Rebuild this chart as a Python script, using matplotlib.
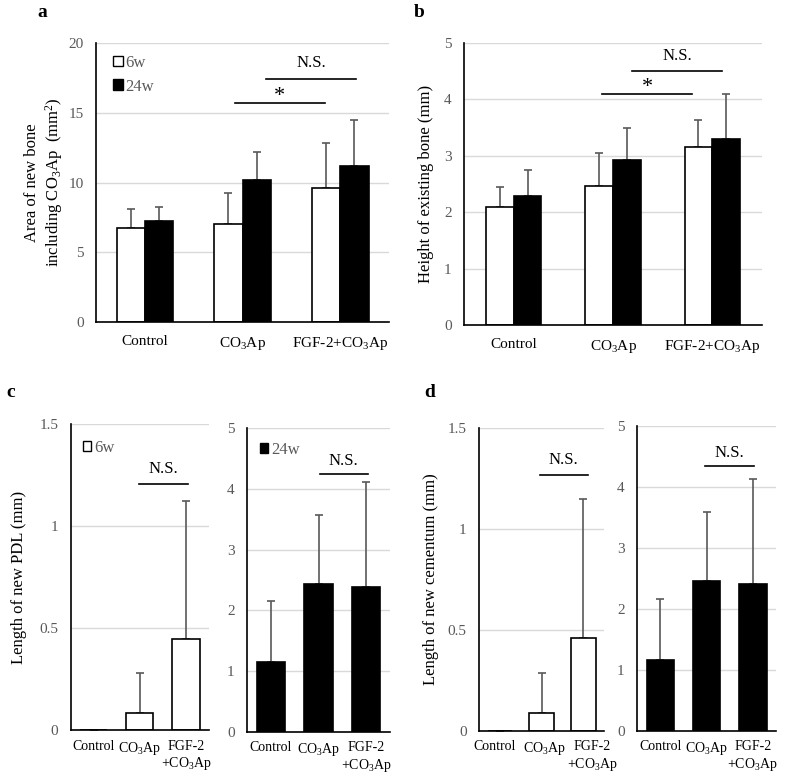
import matplotlib
matplotlib.use("Agg")
import matplotlib.pyplot as plt
import matplotlib.transforms as mtransforms
from matplotlib.ticker import FuncFormatter
from matplotlib.patches import Patch

plt.rcParams["font.family"] = ["Liberation Serif", "DejaVu Serif"]
plt.rcParams["mathtext.fontset"] = "custom"
plt.rcParams["mathtext.rm"] = "Liberation Serif"
plt.rcParams["mathtext.default"] = "regular"

groups = ["Control", "CO$_3$Ap", "FGF-2+CO$_3$Ap"]
groups_two_line = ["Control", "CO$_3$Ap", "FGF-2\n+CO$_3$Ap"]

# a: area of new bone
area_6w = [6.76, 7.03, 9.63]
area_6w_sd = [1.32, 2.24, 3.18]
area_24w = [7.24, 10.18, 11.2]
area_24w_sd = [1.03, 1.98, 3.28]

# b: height of existing bone
height_6w = [2.09, 2.47, 3.16]
height_6w_sd = [0.36, 0.58, 0.47]
height_24w = [2.29, 2.93, 3.29]
height_24w_sd = [0.46, 0.57, 0.80]

# c: new PDL
pdl_6w = [0.0, 0.085, 0.445]
pdl_6w_sd = [0.0, 0.195, 0.68]
pdl_24w = [1.15, 2.44, 2.39]
pdl_24w_sd = [1.0, 1.13, 1.73]

# d: new cementum
cem_6w = [0.0, 0.09, 0.46]
cem_6w_sd = [0.0, 0.195, 0.69]
cem_24w = [1.16, 2.46, 2.40]
cem_24w_sd = [1.0, 1.12, 1.73]

GRAY = "#595959"
GRID = "#d9d9d9"


def style_axes(ax, ymax, ystep, xsize=11, xpad=9):
    ax.set_xlim(-0.5, 2.5)
    ax.set_ylim(0, ymax)
    yt = []
    v = 0
    while v <= ymax + 1e-9:
        yt.append(v)
        v += ystep
    ax.set_yticks(yt)
    ax.yaxis.set_major_formatter(FuncFormatter(lambda val, pos: "{:g}".format(round(val, 3))))
    ax.grid(axis="y", color=GRID, lw=1, zorder=0)
    ax.set_axisbelow(True)
    for s in ["top", "right"]:
        ax.spines[s].set_visible(False)
    for s in ["left", "bottom"]:
        ax.spines[s].set_linewidth(1.2)
        ax.spines[s].set_color("black")
    ax.tick_params(axis="y", length=0, labelsize=11, labelcolor=GRAY, pad=9)
    ax.tick_params(axis="x", length=0, labelsize=xsize, labelcolor="black", pad=xpad)


def bars(ax, x, vals, sd, color, width):
    ax.bar(x, vals, width, color=color, edgecolor="black", linewidth=1.2, zorder=2)
    ax.errorbar(x, vals, yerr=[[0] * len(sd), sd], fmt="none", ecolor=GRAY,
                elinewidth=1.2, capsize=3, capthick=1.2, zorder=1.5)


def sig(ax, x0, x1, y, text, ty, size=12):
    ax.plot([x0, x1], [y, y], color="black", lw=1.2, zorder=3)
    ax.text((x0 + x1) / 2, ty, text, ha="center", va="center", fontsize=size)


def legend(ax, handles, size, anchor):
    leg = ax.legend(handles=handles, loc="upper left", bbox_to_anchor=anchor, frameon=False,
                    handlelength=size, handleheight=size, handletextpad=0.15,
                    labelspacing=0.45, fontsize=12, borderaxespad=0, borderpad=0)
    for t in leg.get_texts():
        t.set_color(GRAY)


def shift_labels(ax, offsets):
    for lab, dx in zip(ax.get_xticklabels(), offsets):
        lab.set_transform(lab.get_transform() +
                          mtransforms.ScaledTranslation(dx / 100, 0, fig.dpi_scale_trans))


fig = plt.figure(figsize=(7.89, 7.75), dpi=100)
xs = list(range(3))

# ---- a ----
ax = fig.add_axes([0.1217, 0.5845, 0.3714, 0.36])
w = 0.29
bars(ax, [x - w / 2 for x in xs], area_6w, area_6w_sd, "white", w)
bars(ax, [x + w / 2 for x in xs], area_24w, area_24w_sd, "black", w)
style_axes(ax, 20, 5)
ax.set_xticks(xs)
ax.set_xticklabels(groups)
ax.set_ylabel("Area of new bone\nincluding CO$_3$Ap  (mm$^2$)", fontsize=12, labelpad=2)
sig(ax, 0.92, 1.84, 15.7, "*", 16.15, size=16)
sig(ax, 1.24, 2.16, 17.4, "N.S.", 18.6)
legend(ax, [Patch(facecolor="white", edgecolor="black", label="6w"),
            Patch(facecolor="black", edgecolor="black", label="24w")], 0.6, (0.058, 0.957))
fig.text(0.048, 0.995, "a", fontsize=14, fontweight="bold", va="top")

# ---- b ----
ax = fig.add_axes([0.5881, 0.5806, 0.3777, 0.3639])
w = 0.28
bars(ax, [x - w / 2 for x in xs], height_6w, height_6w_sd, "white", w)
bars(ax, [x + w / 2 for x in xs], height_24w, height_24w_sd, "black", w)
style_axes(ax, 5, 1)
ax.set_xticks(xs)
ax.set_xticklabels(groups)
ax.set_ylabel("Height of existing bone (mm)", fontsize=12, labelpad=7)
sig(ax, 0.89, 1.80, 4.09, "*", 4.22, size=16)
sig(ax, 1.19, 2.10, 4.51, "N.S.", 4.77)
fig.text(0.524, 0.995, "b", fontsize=14, fontweight="bold", va="top")

# ---- c ----
ax = fig.add_axes([0.0896, 0.0581, 0.1753, 0.3945])
bars(ax, xs, pdl_6w, pdl_6w_sd, "white", 0.59)
style_axes(ax, 1.5, 0.5, xsize=10, xpad=7)
ax.set_xticks(xs)
ax.set_xticklabels(groups_two_line, va="top")
ax.set_ylabel("Length of new PDL (mm)", fontsize=12, labelpad=9)
sig(ax, 0.99, 2.05, 1.205, "N.S.", 1.28)
legend(ax, [Patch(facecolor="white", edgecolor="black", label="6w")], 0.5, (0.089, 0.949))

ax = fig.add_axes([0.3134, 0.0559, 0.1809, 0.3915])
bars(ax, xs, pdl_24w, pdl_24w_sd, "black", 0.6)
style_axes(ax, 5, 1, xsize=10, xpad=7)
ax.set_xticks(xs)
ax.set_xticklabels(groups_two_line, va="top")
sig(ax, 1.02, 2.03, 4.24, "N.S.", 4.46)
legend(ax, [Patch(facecolor="black", edgecolor="black", label="24w")], 0.5, (0.089, 0.955))
fig.text(0.008, 0.505, "c", fontsize=14, fontweight="bold", va="top")

# ---- d ----
ax = fig.add_axes([0.6071, 0.0572, 0.1588, 0.3902])
bars(ax, xs, cem_6w, cem_6w_sd, "white", 0.59)
style_axes(ax, 1.5, 0.5, xsize=10, xpad=7)
ax.set_xticks(xs)
ax.set_xticklabels(groups_two_line, va="top")
shift_labels(ax, [-5, 3, 9])
ax.set_ylabel("Length of new cementum (mm)", fontsize=12, labelpad=6)
sig(ax, 0.96, 2.1, 1.27, "N.S.", 1.345)

ax = fig.add_axes([0.8077, 0.0572, 0.1758, 0.3932])
bars(ax, xs, cem_24w, cem_24w_sd, "black", 0.6)
style_axes(ax, 5, 1, xsize=10, xpad=7)
ax.set_xticks(xs)
ax.set_xticklabels(groups_two_line, va="top")
sig(ax, 0.97, 2.03, 4.35, "N.S.", 4.55)
fig.text(0.538, 0.505, "d", fontsize=14, fontweight="bold", va="top")

fig.savefig("out.png", dpi=100)
